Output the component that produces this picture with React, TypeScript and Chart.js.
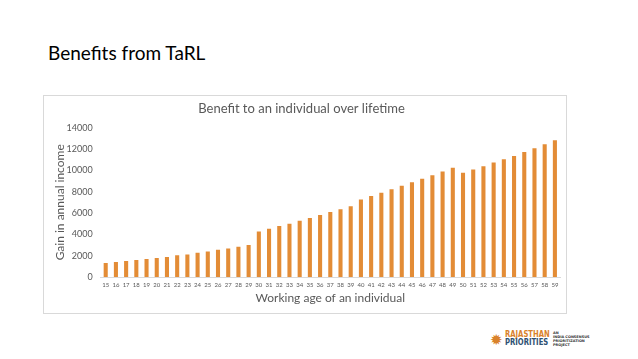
import React, { useEffect, useRef } from "react";
import { Chart, registerables } from "chart.js";

Chart.register(...registerables);

const ages: string[] = [
  "15","16","17","18","19","20","21","22","23","24","25","26","27","28","29",
  "30","31","32","33","34","35","36","37","38","39","40","41","42","43","44",
  "45","46","47","48","49","50","51","52","53","54","55","56","57","58","59",
];
const gains: number[] = [
  1310, 1400, 1500, 1590, 1680, 1780, 1870, 2030, 2120, 2280, 2400, 2560, 2680, 2840, 2990,
  4270, 4520, 4770, 4990, 5270, 5520, 5800, 6080, 6360, 6640, 7270, 7580, 7890, 8230, 8540,
  8890, 9200, 9540, 9880, 10230, 9760, 10070, 10380, 10730, 11040, 11350, 11720, 12070, 12440, 12820,
];
const yTicks: number[] = [0, 2000, 4000, 6000, 8000, 10000, 12000, 14000];

const pageTitle = "Benefits from TaRL";
const chartTitle = "Benefit to an individual over lifetime";
const xTitle = "Working age of an individual";
const yTitle = "Gain in annual income";

const FONT = "Lato, 'Open Sans', sans-serif";
const GREY = "#595959";

export default function App() {
  const ref = useRef<HTMLCanvasElement | null>(null);

  useEffect(() => {
    if (!ref.current) return;
    const chart = new Chart(ref.current, {
      type: "bar",
      data: {
        labels: ages,
        datasets: [
          {
            data: gains,
            backgroundColor: "#E38C36",
            borderWidth: 0,
            categoryPercentage: 1,
            barPercentage: 0.4,
          },
        ],
      },
      options: {
        animation: false,
        responsive: false,
        maintainAspectRatio: false,
        layout: { padding: { left: 0, right: 7, top: 0, bottom: 0 } },
        plugins: {
          legend: { display: false },
          tooltip: { enabled: false },
          title: {
            display: true,
            text: chartTitle,
            color: GREY,
            font: { family: FONT, size: 13, weight: "normal" },
            padding: { top: 6, bottom: 11 },
          },
        },
        scales: {
          x: {
            grid: { display: false, drawTicks: false },
            border: { display: true, color: "#D9D9D9", width: 1 },
            ticks: {
              autoSkip: false,
              maxRotation: 0,
              minRotation: 0,
              padding: 4,
              color: GREY,
              font: { family: FONT, size: 6 },
            },
            title: {
              display: true,
              text: xTitle,
              color: GREY,
              font: { family: FONT, size: 12 },
              padding: { top: 0, bottom: 9 },
            },
            afterFit: (scale: any) => {
              scale.height = 37;
            },
          },
          y: {
            min: 0,
            max: 14000,
            grid: { display: false, drawTicks: false },
            border: { display: false },
            afterBuildTicks: (scale: any) => {
              scale.ticks = yTicks.map((v) => ({ value: v }));
            },
            ticks: {
              padding: 8,
              color: GREY,
              font: { family: FONT, size: 9 },
              callback: (v: any) => String(v),
            },
            title: {
              display: true,
              text: yTitle,
              color: GREY,
              font: { family: FONT, size: 12 },
              padding: { top: 10, bottom: 0 },
            },
            afterFit: (scale: any) => {
              scale.width = 57.6;
            },
          },
        },
      },
    });
    return () => chart.destroy();
  }, []);

  return (
    <div
      style={{
        position: "fixed",
        left: 0,
        top: 0,
        width: 638,
        height: 359,
        background: "#fff",
        overflow: "hidden",
        fontFamily: FONT,
      }}
    >
      <div
        style={{
          position: "absolute",
          left: 48,
          top: 41,
          fontSize: 19,
          lineHeight: "24px",
          color: "#000",
          fontFamily: FONT,
          whiteSpace: "nowrap",
        }}
      >
        {pageTitle}
      </div>
      <div
        style={{
          position: "absolute",
          left: 43,
          top: 95,
          width: 524,
          height: 219,
          boxSizing: "border-box",
          border: "1px solid #D9D9D9",
        }}
      />
      <canvas
        ref={ref}
        width={524}
        height={219}
        style={{ position: "absolute", left: 43, top: 95, width: 524, height: 219 }}
      />
      {/* logo */}
      <div
        style={{
          position: "absolute",
          left: 489,
          top: 332,
          width: 14,
          height: 14,
          fontSize: 15,
          lineHeight: "14px",
          color: "#D9822B",
          textAlign: "center",
        }}
      >
        ✹
      </div>
      <div
        style={{
          position: "absolute",
          left: 505,
          top: 331,
          fontFamily: "'DejaVu Sans Condensed', 'DejaVu Sans', sans-serif",
          fontWeight: "bold",
          fontSize: 8,
          lineHeight: "7.5px",
          whiteSpace: "nowrap",
          transform: "scaleX(0.95)",
          transformOrigin: "left top",
        }}
      >
        <div style={{ color: "#D9822B" }}>RAJASTHAN</div>
        <div style={{ color: "#2E5173" }}>PRIORITIES</div>
      </div>
      <div
        style={{
          position: "absolute",
          left: 553,
          top: 331,
          fontFamily: "'DejaVu Sans', sans-serif",
          fontWeight: "bold",
          fontSize: 3.5,
          lineHeight: "4px",
          color: "#333",
          whiteSpace: "nowrap",
        }}
      >
        <div>AN</div>
        <div>INDIA CONSENSUS</div>
        <div>PRIORITIZATION</div>
        <div>PROJECT</div>
      </div>
    </div>
  );
}
